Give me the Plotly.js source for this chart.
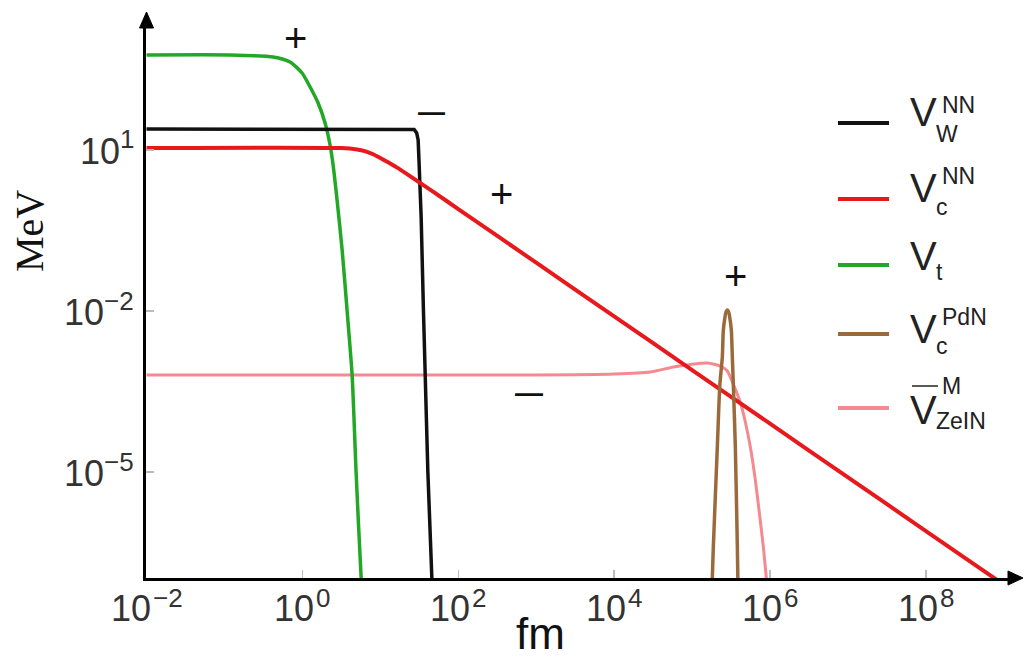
<!DOCTYPE html>
<html>
<head>
<meta charset="utf-8">
<script src="https://cdn.plot.ly/plotly-3.0.1.min.js"></script>
<style>html,body{margin:0;padding:0;background:#fff;}#chart{width:1025px;height:658px;}</style>
</head>
<body>
<div id="chart"></div>
<script>
// ---- data (log10 of r in fm, log10 of V in MeV) ----
const wNN_logR = [-2, 1.3826, 1.4339, 1.466, 1.4852, 1.4942, 1.5083, 1.5237, 1.5533, 1.5751, 1.6098, 1.6611, 1.6906];
const wNN_logV = [1.3913, 1.3913, 1.382, 1.3168, 1.1863, 0.8696, 0.3479, -0.2484, -2.0, -3.192, -5.0, -6.975, -7.757];

const cNN_logR = [-2, 0.5, 0.7, 0.8, 0.9, 1.0, 1.1, 1.2, 1.4, 1.7, 2, 3, 4, 5, 6, 7, 8, 9, 9.3];
const cNN_logV = [1.037, 1.035, 1.01, 0.98, 0.925, 0.85, 0.77, 0.685, 0.495, 0.2, -0.1, -1.1, -2.1, -3.1, -4.1, -5.1, -6.1, -7.1, -7.4];

const t_logR = [-2, -0.928, -0.376, -0.158, -0.004, 0.099, 0.202, 0.291, 0.355, 0.394, 0.445, 0.510, 0.574, 0.638, 0.689, 0.754, 0.818];
const t_logV = [2.770, 2.770, 2.733, 2.640, 2.435, 2.174, 1.876, 1.503, 1.093, 0.720, 0.068, -0.863, -2.0, -3.192, -5.0, -6.975, -8.316];

const cPdN_logR = [5.2465, 5.2593, 5.2722, 5.3235, 5.3556, 5.3877, 5.4005, 5.4198, 5.4326, 5.4519, 5.4711, 5.4840, 5.5032, 5.5161, 5.5289, 5.5546, 5.5803, 5.5867, 5.5995];
const cPdN_logV = [-7.757, -6.975, -6.397, -4.534, -3.379, -2.857, -2.354, -2.130, -2.028, -1.981, -2.028, -2.130, -2.354, -2.857, -3.379, -4.534, -6.397, -6.975, -7.757];

const zel_logR = [-2, 3.0, 4.0, 4.463, 4.759, 4.977, 5.195, 5.362, 5.452, 5.516, 5.580, 5.632, 5.683, 5.747, 5.811, 5.863, 5.914, 5.952, 5.991];
const zel_logV = [-3.192, -3.192, -3.174, -3.136, -3.043, -2.997, -2.969, -3.025, -3.118, -3.323, -3.547, -3.770, -4.068, -4.534, -5.149, -5.764, -6.397, -6.975, -7.664];

const seriesColors = ['#111111', '#e8191c', '#22a826', '#9a6a3a', '#f48a8f'];

// tick labels: base "10" with an exponent
const xTickVals = [1e-2, 1, 1e2, 1e4, 1e6, 1e8];
const xTickExp = ['\u22122', '0', '2', '4', '6', '8'];
const yTickVals = [1e1, 1e-2, 1e-5];
const yTickExp = ['1', '\u22122', '\u22125'];

// ---- geometry helpers (pixel -> paper) ----
const W = 1025, H = 658;
const M = {l: 146, r: 13, t: 25, b: 80};
const PL = M.l, PR = W - M.r, PT = M.t, PB = H - M.b;
const px = x => (x - PL) / (PR - PL);
const py = y => (PB - y) / (PB - PT);
const pow10 = a => a.map(v => Math.pow(10, v));

function trace(lr, lv, color, width, shape) {
  return {x: pow10(lr), y: pow10(lv), type: 'scatter', mode: 'lines',
    line: {color: color, width: width, shape: shape || 'linear', smoothing: 0.6},
    showlegend: false, hoverinfo: 'skip'};
}

const data = [
  trace(zel_logR, zel_logV, seriesColors[4], 3, 'spline'),
  trace(t_logR, t_logV, seriesColors[2], 3.5, 'spline'),
  trace(wNN_logR, wNN_logV, seriesColors[0], 3.5, 'linear'),
  trace(cNN_logR, cNN_logV, seriesColors[1], 4, 'spline'),
  trace(cPdN_logR, cPdN_logV, seriesColors[3], 3.5, 'spline')
];

const sans = 'Liberation Sans, Arial, sans-serif';
const txtCol = '#222';
const ann = [];
function T(text, x, y, size, opts) {
  ann.push(Object.assign({text: text, xref: 'paper', yref: 'paper', x: px(x), y: py(y),
    showarrow: false, xanchor: 'center', yanchor: 'middle',
    font: {family: sans, size: size, color: txtCol}}, opts || {}));
}

// tick labels as text pieces placed on the axes' own scales
const BASE = 36, EXP = 26, tickCol = '#333';
const charW = ch => (ch === '\u2212' ? 0.584 : 0.556);
const textW = (s, size) => Array.from(s).reduce((a, ch) => a + charW(ch) * size, 0);
const baseW = textW('10', BASE);
xTickVals.forEach((v, i) => {
  const ew = textW(xTickExp[i], EXP);
  const split = (baseW - ew) / 2;
  ann.push({text: '10', xref: 'x', yref: 'paper', x: Math.log10(v), y: py(608.5), xshift: split + 1,
    xanchor: 'right', yanchor: 'middle', showarrow: false, font: {family: sans, size: BASE, color: tickCol}});
  ann.push({text: xTickExp[i], xref: 'x', yref: 'paper', x: Math.log10(v), y: py(597.5), xshift: split - 1,
    xanchor: 'left', yanchor: 'middle', showarrow: false, font: {family: sans, size: EXP, color: tickCol}});
});
yTickVals.forEach((v, i) => {
  const ew = textW(yTickExp[i], EXP);
  ann.push({text: '10', xref: 'paper', yref: 'y', x: px(136 - ew), y: Math.log10(v), yshift: -1.5,
    xanchor: 'right', yanchor: 'middle', showarrow: false, font: {family: sans, size: BASE, color: tickCol}});
  ann.push({text: yTickExp[i], xref: 'paper', yref: 'y', x: px(136), y: Math.log10(v), yshift: 10.5,
    xanchor: 'right', yanchor: 'middle', showarrow: false, font: {family: sans, size: EXP, color: tickCol}});
});

// axis titles
T('fm', 540, 633, 44, {font: {family: sans, size: 44, color: '#111'}});
T('MeV', 30, 231, 40, {textangle: -90, font: {family: 'Liberation Serif, Times New Roman, serif', size: 40, color: '#111'}});

// sign marks
T('+', 295, 38, 40, {font: {family: sans, size: 40, color: '#111'}});
T('+', 501, 194, 40, {font: {family: sans, size: 40, color: '#111'}});
T('+', 735, 276, 40, {font: {family: sans, size: 40, color: '#111'}});
T('\u2014', 431, 112, 27, {font: {family: sans, size: 27, color: '#111', weight: 'bold'}});
T('\u2014', 529, 392, 28, {font: {family: sans, size: 28, color: '#111', weight: 'bold'}});

// legend (drawn by hand so that sub- and superscripts stack)
const legLineY = [123, 199, 265, 334, 408];
const legVY = [112, 188, 256, 329, 410];
const legSup = ['NN', 'NN', '', 'PdN', 'M'];
const legSupY = [105, 176, 0, 317, 386];
const legSub = ['W', 'c', 't', 'c', 'ZeIN'];
const legSubY = [134, 207, 272, 346, 421];
const shapes = [];
for (let i = 0; i < 5; i++) {
  shapes.push({type: 'line', xref: 'paper', yref: 'paper', x0: px(838), x1: px(889),
    y0: py(legLineY[i]), y1: py(legLineY[i]), line: {color: seriesColors[i], width: 4}});
  T('V', 923, legVY[i], 40);
  if (legSup[i]) T(legSup[i], 940, legSupY[i], 23, {xanchor: 'left'});
  T(legSub[i], 934, legSubY[i], 23, {xanchor: 'left'});
}
// bar over the last V
shapes.push({type: 'line', xref: 'paper', yref: 'paper', x0: px(912), x1: px(938),
  y0: py(386), y1: py(386), line: {color: txtCol, width: 1.5}});

// axis arrow heads and the short line stubs that reach them
function tri(p) {
  return {type: 'path', xref: 'paper', yref: 'paper', fillcolor: '#000', line: {color: '#000', width: 1},
    path: 'M' + p.map(q => px(q[0]) + ',' + py(q[1])).join(' L') + ' Z'};
}
shapes.push({type: 'line', xref: 'paper', yref: 'paper', x0: px(146.5), x1: px(146.5), y0: py(PT), y1: py(22),
  line: {color: '#000', width: 3}});
shapes.push(tri([[146.5, 12], [139.5, 28], [153.5, 28]]));
shapes.push({type: 'line', xref: 'paper', yref: 'paper', x0: px(PR), x1: px(1014), y0: py(578), y1: py(578),
  line: {color: '#000', width: 3}});
shapes.push(tri([[1023, 578], [1008, 571], [1008, 585]]));

const axisCommon = {type: 'log', showgrid: false, zeroline: false, showline: true, linecolor: '#000', linewidth: 3,
  ticks: 'inside', ticklen: 8, tickwidth: 1.5, tickcolor: '#bbb', tickmode: 'array', showticklabels: false,
  fixedrange: true};

const layout = {
  width: W, height: H, margin: M, paper_bgcolor: '#fff', plot_bgcolor: '#fff',
  xaxis: Object.assign({}, axisCommon, {range: [-2.0064, 9.104], tickvals: xTickVals}),
  yaxis: Object.assign({}, axisCommon, {range: [-6.975, 3.329], tickvals: yTickVals}),
  annotations: ann, shapes: shapes, showlegend: false
};

Plotly.newPlot('chart', data, layout, {staticPlot: true});
</script>
</body>
</html>
